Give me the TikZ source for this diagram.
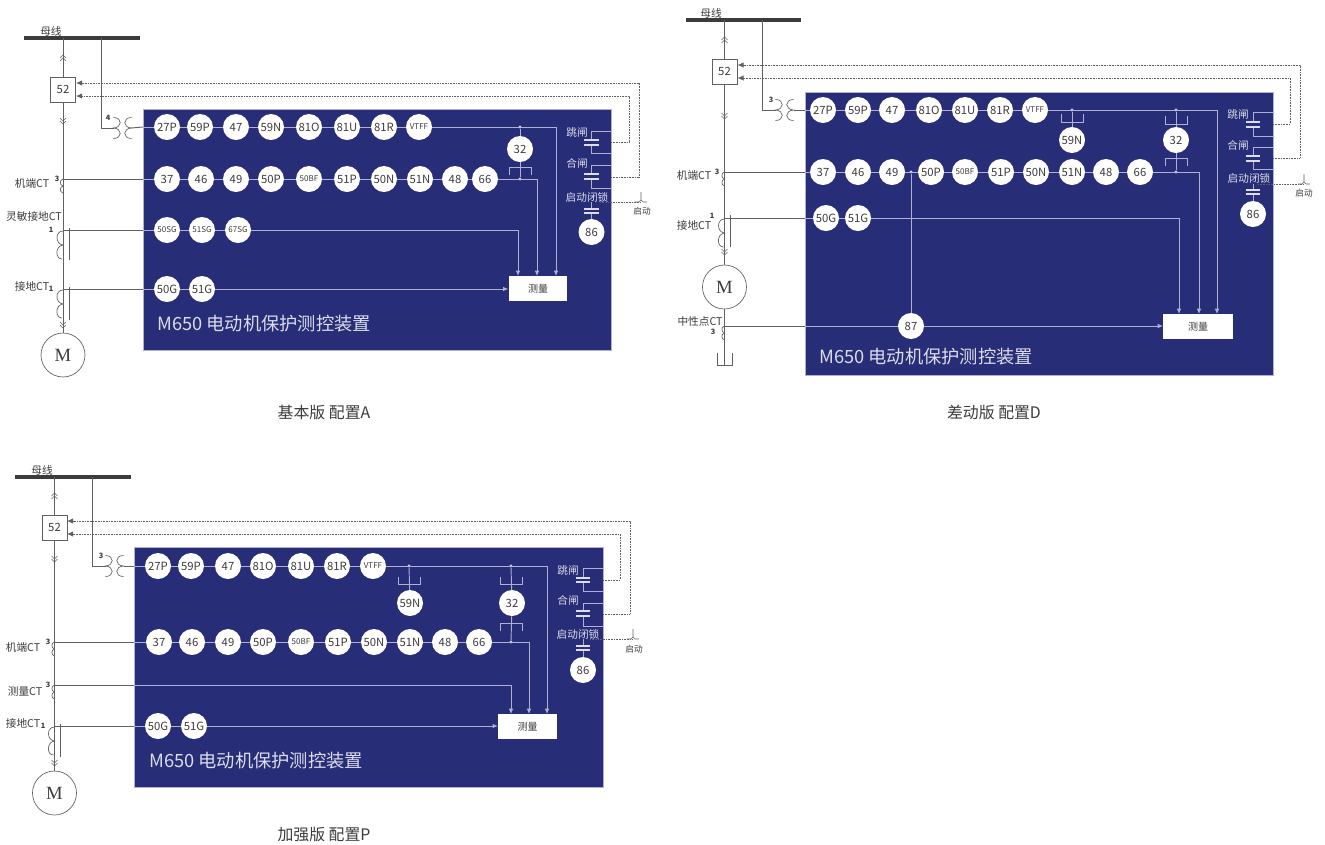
\documentclass[tikz,border=0pt]{standalone}
\usepackage{fontspec}
\setmainfont{Noto Sans CJK SC}
\newfontfamily\motorfont{Liberation Serif}
\usetikzlibrary{arrows.meta}
\definecolor{panelblue}{HTML}{272D76}
\definecolor{paleline}{HTML}{B0B0D4}
\definecolor{paletext}{HTML}{DCDCEC}
\definecolor{wiregrey}{HTML}{606060}
\definecolor{textgrey}{HTML}{3C3C3C}

\begin{document}
\begin{tikzpicture}[x=0.75pt,y=-0.75pt,
  every node/.style = {inner sep=0pt, text=textgrey},
  panelbox/.style = {shape=rectangle, fill=panelblue, draw=paleline, line width=0.3pt},
  relay/.style = {shape=circle, fill=white, minimum size=19.5pt, font=\fontsize{8.5}{8.5}\selectfont},
  relaysmall/.style = {relay, font=\fontsize{6}{6}\selectfont},
  jointdot/.style = {shape=circle, fill=paletext, minimum size=2.5pt},
  busbar/.style = {shape=rectangle, fill=textgrey, minimum width=#1, minimum height=2.7pt},
  breaker/.style = {shape=rectangle, draw=wiregrey, fill=white, line width=0.5pt, minimum size=19pt, font=\fontsize{8.5}{8.5}\selectfont},
  motor/.style = {shape=circle, draw=wiregrey, fill=white, line width=0.5pt, minimum size=33pt, font=\motorfont\fontsize{14}{14}\selectfont},
  measure/.style = {shape=rectangle, fill=white, minimum width=44pt, minimum height=19pt, font=\fontsize{7.5}{8}\selectfont},
  capbars/.style = {shape=rectangle, minimum width=11pt, minimum height=4.4pt,
    path picture={\draw[paletext, line width=2.4pt]
      (path picture bounding box.north west) -- (path picture bounding box.north east)
      (path picture bounding box.south west) -- (path picture bounding box.south east);}},
  cnlabel/.style = {font=\fontsize{8}{9}\selectfont},
  inlabel/.style = {text=paletext, font=\fontsize{8}{9}\selectfont},
  startlabel/.style = {font=\fontsize{6.5}{7}\selectfont},
  numlabel/.style = {font=\bfseries\fontsize{5.5}{6}\selectfont},
  caption/.style = {font=\fontsize{11.9}{13}\selectfont},
  paneltitle/.style = {text=paletext, anchor=west, font=\fontsize{13.7}{14}\selectfont},
  wire/.style = {draw=wiregrey, line width=0.7pt},
  inner/.style = {draw=paleline, line width=0.7pt},
  intoBox/.style = {inner, -{Latex[length=4pt,width=3.5pt]}},
  ctrl/.style = {draw=wiregrey, line width=0.6pt, dash pattern=on 0.7pt off 0.5pt, -{Latex[length=4.5pt,width=4pt]}},
  ctrlplain/.style = {draw=wiregrey, line width=0.6pt, dash pattern=on 0.7pt off 0.5pt},
  thin sym/.style = {draw=wiregrey, line width=0.5pt},
  ctpair/.pic = {\draw[thin sym] (-9,-10.5) .. controls (0,-10.5) and (0,-0.5) .. (-9,0) .. controls (0,0.5) and (0,10.5) .. (-9,10.5)
    (9,-10.5) .. controls (0,-10.5) and (0,-0.5) .. (9,0) .. controls (0,0.5) and (0,10.5) .. (9,10.5);},
  ctlong/.pic = {\draw[thin sym] (0,1) .. controls (-8,1) and (-8,14) .. (0,15) .. controls (-8,16) and (-8,29) .. (-1,29);},
  ctshort/.pic = {\draw[thin sym] (0,0) .. controls (-3.5,1) and (-3.5,6) .. (0,7) .. controls (-3.5,8) and (-3.5,13) .. (0,14);},
  chevup/.pic = {\draw[draw=wiregrey, line width=0.35pt] (-3,0) -- (0,-3) -- (3,0) (-3,3) -- (0,0) -- (3,3);},
  chevdown/.pic = {\draw[draw=wiregrey, line width=0.35pt] (-3,0) -- (0,3) -- (3,0) (-3,-3) -- (0,0) -- (3,-3);},
  cupbrk/.pic = {\draw[inner] (-11,-4) -- (-11,4) -- (11,4) -- (11,-4);},
  capbrk/.pic = {\draw[inner] (-11,4) -- (-11,-4) -- (11,-4) -- (11,4);},
  pushkey/.pic = {\draw[thin sym] (-6,0) -- (-2,0) -- (0,-2) -- (2,0) -- (6,0) (0,-2) -- (0,-10);}]

  \path[fill=white] (0,0) rectangle (1325,844);

  % config A
  \node[panelbox, minimum width=351pt, minimum height=180.75pt] (pa) at (377,229.5) {};
  \node[busbar=87pt] (abus) at (82,38) {};
  \node[cnlabel] (abusl) at (51,31) {母线};
  \node[breaker] (a52) at (63,89.5) {52};
  \node[motor] (am) at (63,355) {M};
  \node[relay] (a27P) at (167,127) {27P};
  \node[relay] (a59P) at (200,127) {59P};
  \node[relay] (a47) at (236,127) {47};
  \node[relay] (a59N) at (271,127) {59N};
  \node[relay] (a81O) at (309,127) {81O};
  \node[relay] (a81U) at (347,127) {81U};
  \node[relay] (a81R) at (384,127) {81R};
  \node[relaysmall] (aVTFF) at (419,127) {VTFF};
  \node[relay] (a37) at (167,179) {37};
  \node[relay] (a46) at (201,179) {46};
  \node[relay] (a49) at (236,179) {49};
  \node[relay] (a50P) at (271,179) {50P};
  \node[relaysmall] (a50BF) at (309,179) {50BF};
  \node[relay] (a51P) at (347,179) {51P};
  \node[relay] (a50N) at (384,179) {50N};
  \node[relay] (a51N) at (420,179) {51N};
  \node[relay] (a48) at (455,179) {48};
  \node[relay] (a66) at (485,179) {66};
  \node[relaysmall] (a50SG) at (167,230) {50SG};
  \node[relaysmall] (a51SG) at (202,230) {51SG};
  \node[relaysmall] (a67SG) at (238,230) {67SG};
  \node[relay] (a50G) at (167,289) {50G};
  \node[relay] (a51G) at (202,289) {51G};
  \node[relay] (a32) at (520,149) {32};
  \node[relay] (a86) at (591.5,232) {86};
  \node[measure] (ameas) at (538,288.5) {测量};
  \node[jointdot] (ad1) at (520,127) {};
  \node[jointdot] (ad2) at (520,179) {};
  \node[paneltitle] (atitle) at (157,324) {M650 电动机保护测控装置};
  \node[inlabel] (atripl) at (577,132) {跳闸};
  \node[inlabel] (aclosel) at (577,163) {合闸};
  \node[inlabel] (alockl) at (587,197) {启动闭锁};
  \node[startlabel] (astartl) at (642,211) {启动};
  \node[capbars] (atc) at (591.5,142.5) {};
  \node[capbars] (acc) at (591.5,176.5) {};
  \node[capbars] (alc) at (591.5,211) {};
  \node[cnlabel] (actl1) at (32,183) {机端CT};
  \node[cnlabel] (actl2) at (34,216) {灵敏接地CT};
  \node[cnlabel] (actl3) at (32,286) {接地CT};
  \node[numlabel] (an1) at (108,118) {4};
  \node[numlabel] (an2) at (57,179) {3};
  \node[numlabel] (an3) at (51,230) {1};
  \node[numlabel] (an4) at (51,289) {1};
  \node[caption] (acap) at (324,412) {基本版 配置A};
  \coordinate (abr) at (101,38);
  \coordinate (actp) at (113.5,128);
  \coordinate (actq) at (131.5,128);
  \coordinate (a179) at (63,179);
  \coordinate (a230) at (63,230);
  \coordinate (a289) at (63,289);
  \coordinate (ame1) at (518,276);
  \coordinate (ame2) at (537,276);
  \coordinate (ame3) at (556,276);
  \coordinate (atu) at (611,131);
  \coordinate (atl) at (611,153);
  \coordinate (acu) at (611,165);
  \coordinate (acl) at (611,188);
  \coordinate (atq) at (611,142);
  \coordinate (acq) at (611,177);
  \coordinate (atk) at (629,96);
  \coordinate (ack) at (639,83);
  \coordinate (a52t) at (76,96);
  \coordinate (a52c) at (76,83);
  \coordinate (alq) at (600,202);
  \coordinate (astart) at (641,202);
  \draw[wire] (a52 |- abus) -- (a52);
  \draw[wire] (a52) -- (am);
  \draw[wire] (abr) |- (actp);
  \draw[wire] (actq) -- (a27P -| pa.west);
  \draw[wire] (a179) -- (a37 -| pa.west);
  \draw[wire] (a230) -- (a50SG -| pa.west);
  \draw[wire] (a289) -- (a50G -| pa.west);
  \draw[inner] (a27P -| pa.west) -- (a27P) -- (a59P) -- (a47) -- (a59N) -- (a81O) -- (a81U) -- (a81R) -- (aVTFF);
  \draw[inner] (a37 -| pa.west) -- (a37) -- (a46) -- (a49) -- (a50P) -- (a50BF) -- (a51P) -- (a50N) -- (a51N) -- (a48) -- (a66);
  \draw[inner] (a50SG -| pa.west) -- (a50SG) -- (a51SG) -- (a67SG);
  \draw[inner] (a50G -| pa.west) -- (a50G) -- (a51G);
  \draw[intoBox] (aVTFF) -| (ame3);
  \draw[intoBox] (a66) -| (ame2);
  \draw[intoBox] (a67SG) -| (ame1);
  \draw[intoBox] (a51G) -- (a51G -| ameas.west);
  \draw[inner] (ad1) -- (a32);
  \draw[inner] (a32) -- (ad2);
  \draw[inner] (atc.north) |- (atu) -- (atl) -| (atc.south);
  \draw[inner] (acc.north) |- (acu) -- (acl) -| (acc.south);
  \draw[inner] (alc.north) -- (alc.north |- alq);
  \draw[inner] (alc.south) -- (a86);
  \draw[ctrl] (atq) -| (atk) -- (a52t);
  \draw[ctrl] (acq) -| (ack) -- (a52c);
  \draw[ctrlplain] (alq) -- (astart);
  \path (astart) pic {pushkey};
  \path (122.5,128) pic {ctpair};
  \path (a179) pic {ctshort};
  \path (a230) pic {ctlong};
  \path (a289) pic {ctlong};
  \path (63,58) pic {chevup};
  \path (63,121) pic {chevdown};
  \path (63,325) pic {chevdown};
  \path (520,171) pic {capbrk};
  \draw[thin sym] (69,228) -- (69,260);
  \draw[thin sym] (69,287) -- (69,320);

  % config D
  \node[panelbox, minimum width=351pt, minimum height=212.25pt] (pd) at (1039,233.5) {};
  \node[busbar=86pt] (dbus) at (743.5,20) {};
  \node[cnlabel] (dbusl) at (711,13) {母线};
  \node[breaker] (d52) at (724.5,71.5) {52};
  \node[motor] (dm) at (724.5,287) {M};
  \node[relay] (d27P) at (823,110) {27P};
  \node[relay] (d59P) at (858,110) {59P};
  \node[relay] (d47) at (892,110) {47};
  \node[relay] (d81O) at (929,110) {81O};
  \node[relay] (d81U) at (965,110) {81U};
  \node[relay] (d81R) at (1000,110) {81R};
  \node[relaysmall] (dVTFF) at (1035,110) {VTFF};
  \node[relay] (d37) at (823,172) {37};
  \node[relay] (d46) at (858,172) {46};
  \node[relay] (d49) at (892,172) {49};
  \node[relay] (d50P) at (931,172) {50P};
  \node[relaysmall] (d50BF) at (965,172) {50BF};
  \node[relay] (d51P) at (1001,172) {51P};
  \node[relay] (d50N) at (1036,172) {50N};
  \node[relay] (d51N) at (1072,172) {51N};
  \node[relay] (d48) at (1106,172) {48};
  \node[relay] (d66) at (1140,172) {66};
  \node[relay] (d50G) at (826,218) {50G};
  \node[relay] (d51G) at (858,218) {51G};
  \node[relay] (d87) at (911,326) {87};
  \node[relay] (d59N) at (1072,140) {59N};
  \node[relay] (d32) at (1176,140) {32};
  \node[relay] (d86) at (1253,214) {86};
  \node[measure, minimum width=52pt] (dmeas) at (1198,326.5) {测量};
  \node[jointdot] (dd1) at (1072,110) {};
  \node[jointdot] (dd2) at (1176,110) {};
  \node[jointdot] (dd3) at (1176,172) {};
  \node[jointdot] (dd4) at (911,172) {};
  \node[paneltitle] (dtitle) at (819,357) {M650 电动机保护测控装置};
  \node[inlabel] (dtripl) at (1238,114) {跳闸};
  \node[inlabel] (dclosel) at (1238,145) {合闸};
  \node[inlabel] (dlockl) at (1249,178) {启动闭锁};
  \node[startlabel] (dstartl) at (1304,193) {启动};
  \node[capbars] (dtc) at (1253,124.5) {};
  \node[capbars] (dcc) at (1253,158.5) {};
  \node[capbars] (dlc) at (1253,192) {};
  \node[cnlabel] (dctl1) at (694,175) {机端CT};
  \node[cnlabel] (dctl2) at (694,225) {接地CT};
  \node[cnlabel] (dctl3) at (700,321) {中性点CT};
  \node[numlabel] (dn1) at (771,100) {3};
  \node[numlabel] (dn2) at (717,172) {3};
  \node[numlabel] (dn3) at (712,216) {1};
  \node[numlabel] (dn4) at (713,332) {3};
  \node[caption] (dcap) at (994,412) {差动版 配置D};
  \coordinate (dbr) at (762.5,20);
  \coordinate (dctp) at (775.5,110);
  \coordinate (dctq) at (793.5,110);
  \coordinate (d172) at (724.5,172);
  \coordinate (d218) at (724.5,218);
  \coordinate (d326) at (724.5,326);
  \coordinate (dgnd) at (724.5,365);
  \coordinate (dme1) at (1179,314);
  \coordinate (dme2) at (1199,314);
  \coordinate (dme3) at (1217,314);
  \coordinate (dtu) at (1273,112);
  \coordinate (dtl) at (1273,136);
  \coordinate (dcu) at (1273,147);
  \coordinate (dcl) at (1273,169);
  \coordinate (dtq) at (1273,124);
  \coordinate (dcq) at (1273,158);
  \coordinate (dtk) at (1290,78);
  \coordinate (dck) at (1300,65);
  \coordinate (d52t) at (737.5,78);
  \coordinate (d52c) at (737.5,65);
  \coordinate (dlq) at (1258,184);
  \coordinate (dstart) at (1304,184);
  \draw[wire] (d52 |- dbus) -- (d52);
  \draw[wire] (d52) -- (dm);
  \draw[wire] (dm) -- (dgnd);
  \draw[thin sym] (717,353) -- (717,365) -- (732,365) -- (732,353);
  \draw[wire] (dbr) |- (dctp);
  \draw[wire] (dctq) -- (d27P -| pd.west);
  \draw[wire] (d172) -- (d37 -| pd.west);
  \draw[wire] (d218) -- (d50G -| pd.west);
  \draw[wire] (d326) -- (d87 -| pd.west);
  \draw[inner] (d27P -| pd.west) -- (d27P) -- (d59P) -- (d47) -- (d81O) -- (d81U) -- (d81R) -- (dVTFF);
  \draw[inner] (d37 -| pd.west) -- (d37) -- (d46) -- (d49) -- (d50P) -- (d50BF) -- (d51P) -- (d50N) -- (d51N) -- (d48) -- (d66);
  \draw[inner] (d50G -| pd.west) -- (d50G) -- (d51G);
  \draw[inner] (d87 -| pd.west) -- (d87);
  \draw[intoBox] (dVTFF) -| (dme3);
  \draw[intoBox] (d66) -| (dme2);
  \draw[intoBox] (d51G) -| (dme1);
  \draw[intoBox] (d87) -- (d87 -| dmeas.west);
  \draw[inner] (dd4) -- (d87);
  \draw[inner] (dd1) -- (d59N);
  \draw[inner] (dd2) -- (d32);
  \draw[inner] (d32) -- (dd3);
  \draw[inner] (dtc.north) |- (dtu) -- (dtl) -| (dtc.south);
  \draw[inner] (dcc.north) |- (dcu) -- (dcl) -| (dcc.south);
  \draw[inner] (dlc.north) -- (dlc.north |- dlq);
  \draw[inner] (dlc.south) -- (d86);
  \draw[ctrl] (dtq) -| (dtk) -- (d52t);
  \draw[ctrl] (dcq) -| (dck) -- (d52c);
  \draw[ctrlplain] (dlq) -- (dstart);
  \path (dstart) pic {pushkey};
  \path (784.5,110) pic {ctpair};
  \path (d172) pic {ctshort};
  \path (d218) pic {ctlong};
  \path (d326) pic {ctshort};
  \path (724.5,40) pic {chevup};
  \path (724.5,116) pic {chevdown};
  \path (724.5,252) pic {chevdown};
  \path (1072,118) pic {cupbrk};
  \path (1176,120) pic {cupbrk};
  \path (1176,162) pic {capbrk};
  \draw[thin sym] (730,215) -- (730,247);

  % config P
  \node[panelbox, minimum width=351.75pt, minimum height=180pt] (pp) at (368.5,667) {};
  \node[busbar=87pt] (pbus) at (73,477) {};
  \node[cnlabel] (pbusl) at (42,470) {母线};
  \node[breaker] (p52) at (54.5,527.5) {52};
  \node[motor] (pm) at (54.5,793) {M};
  \node[relay] (p27P) at (158,566) {27P};
  \node[relay] (p59P) at (191,566) {59P};
  \node[relay] (p47) at (228,566) {47};
  \node[relay] (p81O) at (263,566) {81O};
  \node[relay] (p81U) at (301,566) {81U};
  \node[relay] (p81R) at (337,566) {81R};
  \node[relaysmall] (pVTFF) at (373,566) {VTFF};
  \node[relay] (p37) at (159,642) {37};
  \node[relay] (p46) at (192,642) {46};
  \node[relay] (p49) at (228,642) {49};
  \node[relay] (p50P) at (263,642) {50P};
  \node[relaysmall] (p50BF) at (301,642) {50BF};
  \node[relay] (p51P) at (338,642) {51P};
  \node[relay] (p50N) at (374,642) {50N};
  \node[relay] (p51N) at (410,642) {51N};
  \node[relay] (p48) at (445,642) {48};
  \node[relay] (p66) at (479,642) {66};
  \node[relay] (p50G) at (158,726) {50G};
  \node[relay] (p51G) at (194,726) {51G};
  \node[relay] (p59N) at (410,603) {59N};
  \node[relay] (p32) at (512,603) {32};
  \node[relay] (p86) at (583,670) {86};
  \node[measure] (pmeas) at (527.5,726.5) {测量};
  \node[jointdot] (pd1) at (409,566) {};
  \node[jointdot] (pd2) at (511,566) {};
  \node[jointdot] (pd3) at (511,642) {};
  \node[paneltitle] (ptitle) at (149,761) {M650 电动机保护测控装置};
  \node[inlabel] (ptripl) at (568,570) {跳闸};
  \node[inlabel] (pclosel) at (568,600) {合闸};
  \node[inlabel] (plockl) at (578,634) {启动闭锁};
  \node[startlabel] (pstartl) at (634,649) {启动};
  \node[capbars] (ptc) at (583,580) {};
  \node[capbars] (pcc) at (583,613.5) {};
  \node[capbars] (plc) at (583,648) {};
  \node[cnlabel] (pctl1) at (23,647) {机端CT};
  \node[cnlabel] (pctl2) at (25,691) {测量CT};
  \node[cnlabel] (pctl3) at (23,723) {接地CT};
  \node[numlabel] (pn1) at (101,556) {3};
  \node[numlabel] (pn2) at (48,642) {3};
  \node[numlabel] (pn3) at (48,685) {3};
  \node[numlabel] (pn4) at (43,726) {1};
  \node[caption] (pcap) at (324,835) {加强版 配置P};
  \coordinate (pbr) at (92.5,477);
  \coordinate (pctp) at (105.5,566);
  \coordinate (pctq) at (123.5,566);
  \coordinate (p642) at (54.5,642);
  \coordinate (p685) at (54.5,685);
  \coordinate (p726) at (54.5,726);
  \coordinate (pme1) at (511,714);
  \coordinate (pme2) at (529,714);
  \coordinate (pme3) at (547,714);
  \coordinate (ptu) at (603,568);
  \coordinate (ptl) at (603,591);
  \coordinate (pcu) at (603,603);
  \coordinate (pcl) at (603,626);
  \coordinate (ptq) at (603,580);
  \coordinate (pcq) at (603,614);
  \coordinate (ptk) at (620,534);
  \coordinate (pck) at (630,521);
  \coordinate (p52t) at (67,534);
  \coordinate (p52c) at (67,521);
  \coordinate (plq) at (590,639);
  \coordinate (pstart) at (633,639);
  \draw[wire] (p52 |- pbus) -- (p52);
  \draw[wire] (p52) -- (pm);
  \draw[wire] (pbr) |- (pctp);
  \draw[wire] (pctq) -- (p27P -| pp.west);
  \draw[wire] (p642) -- (p37 -| pp.west);
  \draw[wire] (p685) -- (p685 -| pp.west);
  \draw[wire] (p726) -- (p50G -| pp.west);
  \draw[inner] (p27P -| pp.west) -- (p27P) -- (p59P) -- (p47) -- (p81O) -- (p81U) -- (p81R) -- (pVTFF);
  \draw[inner] (p37 -| pp.west) -- (p37) -- (p46) -- (p49) -- (p50P) -- (p50BF) -- (p51P) -- (p50N) -- (p51N) -- (p48) -- (p66);
  \draw[inner] (p50G -| pp.west) -- (p50G) -- (p51G);
  \draw[intoBox] (pVTFF) -| (pme3);
  \draw[intoBox] (p66) -| (pme2);
  \draw[intoBox] (p685 -| pp.west) -| (pme1);
  \draw[intoBox] (p51G) -- (p51G -| pmeas.west);
  \draw[inner] (pd1) -- (p59N);
  \draw[inner] (pd2) -- (p32);
  \draw[inner] (p32) -- (pd3);
  \draw[inner] (ptc.north) |- (ptu) -- (ptl) -| (ptc.south);
  \draw[inner] (pcc.north) |- (pcu) -- (pcl) -| (pcc.south);
  \draw[inner] (plc.north) -- (plc.north |- plq);
  \draw[inner] (plc.south) -- (p86);
  \draw[ctrl] (ptq) -| (ptk) -- (p52t);
  \draw[ctrl] (pcq) -| (pck) -- (p52c);
  \draw[ctrlplain] (plq) -- (pstart);
  \path (pstart) pic {pushkey};
  \path (114.5,566) pic {ctpair};
  \path (p642) pic {ctshort};
  \path (p685) pic {ctshort};
  \path (p726) pic {ctlong};
  \path (54.5,496) pic {chevup};
  \path (54.5,559) pic {chevdown};
  \path (54.5,763) pic {chevdown};
  \path (409,580.5) pic {cupbrk};
  \path (511,580.5) pic {cupbrk};
  \path (511,627) pic {capbrk};
  \draw[thin sym] (60.5,724) -- (60.5,757);

  \useasboundingbox (0,0) rectangle (1325,844);
\end{tikzpicture}
\end{document}
